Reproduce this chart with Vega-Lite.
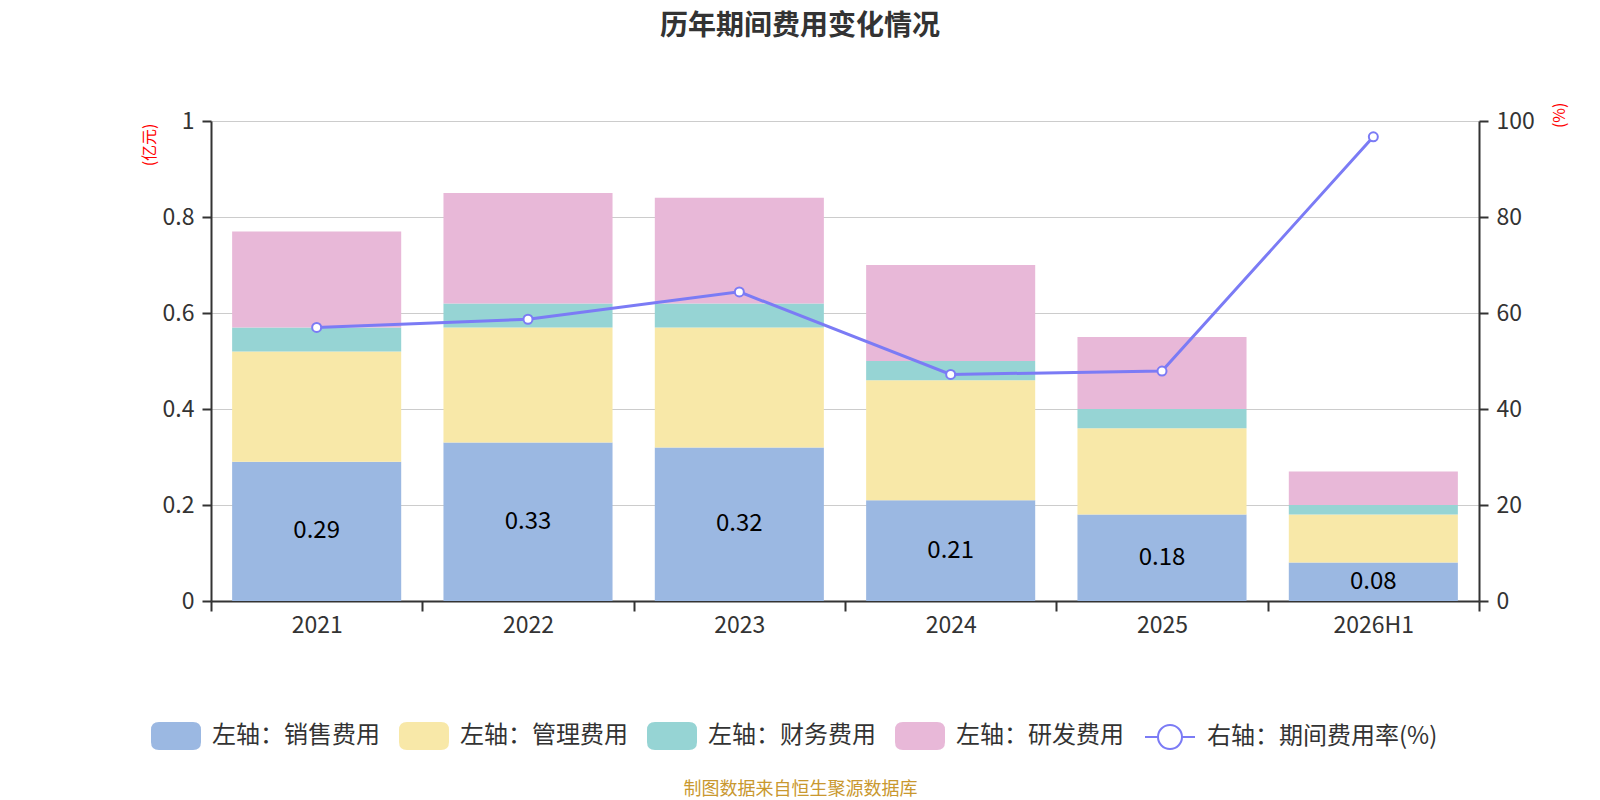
{
  "$schema": "https://vega.github.io/schema/vega-lite/v6.json",
  "autosize": "none",
  "width": 1268,
  "height": 480,
  "padding": {"left": 211, "top": 121, "right": 121, "bottom": 199},
  "background": "white",
  "config": {
    "font": "Noto Sans CJK SC",
    "view": {"stroke": null},
    "axis": {"labelColor": "#333", "labelFontSize": 23, "domainColor": "#333", "domainWidth": 2, "tickColor": "#333", "tickWidth": 2}
  },
  "title": {
    "text": "历年期间费用变化情况",
    "fontSize": 28,
    "fontWeight": "bold",
    "color": "#333",
    "anchor": "middle",
    "dx": -45,
    "offset": 61
  },
  "datasets": {
    "bars": [
      {"year": "2021", "type": "左轴：销售费用", "s": 1, "v": 0.29},
      {"year": "2021", "type": "左轴：管理费用", "s": 2, "v": 0.23},
      {"year": "2021", "type": "左轴：财务费用", "s": 3, "v": 0.05},
      {"year": "2021", "type": "左轴：研发费用", "s": 4, "v": 0.2},
      {"year": "2022", "type": "左轴：销售费用", "s": 1, "v": 0.33},
      {"year": "2022", "type": "左轴：管理费用", "s": 2, "v": 0.24},
      {"year": "2022", "type": "左轴：财务费用", "s": 3, "v": 0.05},
      {"year": "2022", "type": "左轴：研发费用", "s": 4, "v": 0.23},
      {"year": "2023", "type": "左轴：销售费用", "s": 1, "v": 0.32},
      {"year": "2023", "type": "左轴：管理费用", "s": 2, "v": 0.25},
      {"year": "2023", "type": "左轴：财务费用", "s": 3, "v": 0.05},
      {"year": "2023", "type": "左轴：研发费用", "s": 4, "v": 0.22},
      {"year": "2024", "type": "左轴：销售费用", "s": 1, "v": 0.21},
      {"year": "2024", "type": "左轴：管理费用", "s": 2, "v": 0.25},
      {"year": "2024", "type": "左轴：财务费用", "s": 3, "v": 0.04},
      {"year": "2024", "type": "左轴：研发费用", "s": 4, "v": 0.2},
      {"year": "2025", "type": "左轴：销售费用", "s": 1, "v": 0.18},
      {"year": "2025", "type": "左轴：管理费用", "s": 2, "v": 0.18},
      {"year": "2025", "type": "左轴：财务费用", "s": 3, "v": 0.04},
      {"year": "2025", "type": "左轴：研发费用", "s": 4, "v": 0.15},
      {"year": "2026H1", "type": "左轴：销售费用", "s": 1, "v": 0.08},
      {"year": "2026H1", "type": "左轴：管理费用", "s": 2, "v": 0.1},
      {"year": "2026H1", "type": "左轴：财务费用", "s": 3, "v": 0.02},
      {"year": "2026H1", "type": "左轴：研发费用", "s": 4, "v": 0.07}
    ],
    "rate": [
      {"year": "2021", "r": 57.0},
      {"year": "2022", "r": 58.7},
      {"year": "2023", "r": 64.4},
      {"year": "2024", "r": 47.2},
      {"year": "2025", "r": 47.9},
      {"year": "2026H1", "r": 96.7}
    ]
  },
  "encoding": {
    "x": {
      "field": "year",
      "type": "nominal",
      "sort": null,
      "scale": {"paddingInner": 0, "paddingOuter": 0},
      "axis": {
        "labelAngle": 0,
        "tickBand": "extent",
        "tickSize": 10,
        "labelPadding": 3,
        "grid": false,
        "title": "制图数据来自恒生聚源数据库",
        "titleColor": "#c9982f",
        "titleFontSize": 18,
        "titleFontWeight": "normal",
        "titleX": 589,
        "titleY": 188,
        "titleBaseline": "middle"
      }
    }
  },
  "layer": [
    {
      "data": {"name": "bars"},
      "mark": {"type": "bar", "width": {"band": 0.8}},
      "encoding": {
        "y": {
          "field": "v",
          "type": "quantitative",
          "stack": "zero",
          "scale": {"domain": [0, 1]},
          "axis": {
            "orient": "left",
            "values": [0, 0.2, 0.4, 0.6, 0.8, 1],
            "format": "~g",
            "tickSize": 9,
            "labelPadding": 8,
            "grid": true,
            "gridColor": "#cccccc",
            "gridWidth": 1,
            "title": "(亿元)",
            "titleColor": "red",
            "titleFontSize": 16,
            "titleFontWeight": "normal",
            "titleAngle": -90,
            "titleAlign": "right",
            "titleBaseline": "middle",
            "titleX": -62,
            "titleY": 2
          }
        },
        "order": {"field": "s", "type": "quantitative"},
        "color": {
          "field": "type",
          "type": "nominal",
          "scale": {
            "domain": ["左轴：销售费用", "左轴：管理费用", "左轴：财务费用", "左轴：研发费用"],
            "range": ["#9bb8e2", "#f8e8a8", "#96d4d4", "#e8b8d8"]
          },
          "legend": {
            "orient": "none",
            "legendX": -60,
            "legendY": 590,
            "direction": "horizontal",
            "columns": 4,
            "columnPadding": 19,
            "padding": 0,
            "title": null,
            "symbolType": "M-0.68,-0.56 L0.68,-0.56 Q1,-0.56 1,-0.24 L1,0.24 Q1,0.56 0.68,0.56 L-0.68,0.56 Q-1,0.56 -1,0.24 L-1,-0.24 Q-1,-0.56 -0.68,-0.56 Z",
            "symbolSize": 2500,
            "symbolStrokeWidth": 0,
            "symbolOpacity": 1,
            "labelFontSize": 24,
            "labelColor": "#333",
            "labelOffset": 11,
            "labelLimit": 400
          }
        }
      }
    },
    {
      "data": {"name": "bars"},
      "transform": [{"filter": "datum.s == 1"}],
      "mark": {"type": "text", "fontSize": 24, "color": "#000", "baseline": "middle"},
      "encoding": {
        "y": {
          "field": "v",
          "type": "quantitative",
          "scale": {"domain": [0, 2]},
          "axis": null
        },
        "text": {"field": "v", "type": "quantitative", "format": ".2f"}
      }
    },
    {
      "data": {"name": "rate"},
      "mark": {
        "type": "line",
        "strokeWidth": 3,
        "point": {"filled": true, "fill": "white", "stroke": "#7b7bf5", "strokeWidth": 2, "size": 81}
      },
      "encoding": {
        "y": {
          "field": "r",
          "type": "quantitative",
          "scale": {"domain": [0, 100]},
          "axis": {
            "orient": "right",
            "values": [0, 20, 40, 60, 80, 100],
            "tickSize": 9,
            "labelPadding": 8,
            "grid": false,
            "title": "(%)",
            "titleColor": "red",
            "titleFontSize": 16,
            "titleFontWeight": "normal",
            "titleAngle": -90,
            "titleAlign": "right",
            "titleBaseline": "middle",
            "titleX": 80,
            "titleY": -19
          }
        },
        "stroke": {
          "datum": "右轴：期间费用率(%)",
          "type": "nominal",
          "scale": {"range": ["#7b7bf5"]},
          "legend": {
            "orient": "none",
            "legendX": 933,
            "legendY": 590,
            "padding": 0,
            "title": null,
            "symbolType": "M-1,0 L-0.48,0 M0.48,0 L1,0 M-0.48,0 A0.48,0.48 0 1,1 0.48,0 A0.48,0.48 0 1,1 -0.48,0 Z",
            "symbolSize": 2500,
            "symbolStrokeWidth": 2,
            "symbolFillColor": "white",
            "labelFontSize": 24,
            "labelColor": "#333",
            "labelOffset": 11,
            "labelLimit": 400
          }
        }
      }
    }
  ],
  "resolve": {"scale": {"y": "independent"}}
}
